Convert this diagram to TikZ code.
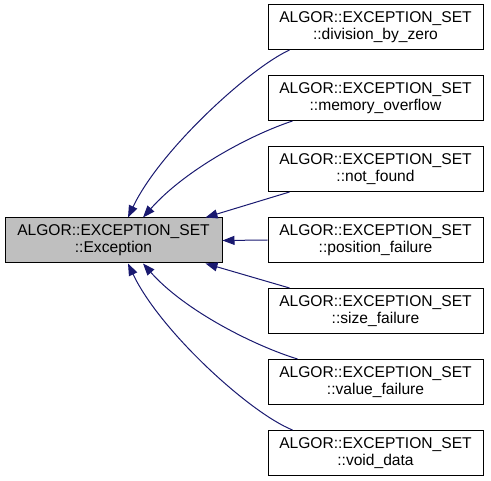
\documentclass[tikz,border=0pt]{standalone}
\usepackage{fontspec}
\setmainfont{Liberation Sans}
\usetikzlibrary{arrows.meta,calc}
\definecolor{edgeblue}{HTML}{191970}
\definecolor{maingray}{HTML}{BFBFBF}
\tikzset{
  cls/.style={draw=black, line width=1pt, fill=white, minimum width=215pt, minimum height=45pt,
    inner sep=0pt, align=center, font=\fontsize{15.6}{17}\selectfont},
  mainbox/.style={cls, fill=maingray, minimum width=217pt},
  inh/.style={draw=edgeblue, line width=1pt, -{Triangle[length=12pt,width=9pt]}},
}
\begin{document}
\begin{tikzpicture}[x=1pt,y=-1pt]
\useasboundingbox (0,0) rectangle (491,481);
\node[mainbox] (main) at (113.5,240.5) {ALGOR::EXCEPTION\_SET\\::Exception};
\node[cls] (b1) at (375.5,27) {ALGOR::EXCEPTION\_SET\\::division\_by\_zero};
\node[cls] (b2) at (375.5,98) {ALGOR::EXCEPTION\_SET\\::memory\_overflow};
\node[cls] (b3) at (375.5,169) {ALGOR::EXCEPTION\_SET\\::not\_found};
\node[cls] (b4) at (375.5,240) {ALGOR::EXCEPTION\_SET\\::position\_failure};
\node[cls] (b5) at (375.5,311) {ALGOR::EXCEPTION\_SET\\::size\_failure};
\node[cls] (b6) at (375.5,382) {ALGOR::EXCEPTION\_SET\\::value\_failure};
\node[cls] (b7) at (375.5,453) {ALGOR::EXCEPTION\_SET\\::void\_data};
\draw[inh] ($(b1.south west)+(22,0)$) .. controls (250,68) and (160,150) .. ($(main.north)+(14.5,0)$);
\draw[inh] ($(b2.south west)+(25,0)$) .. controls (250,135) and (185,170) .. ($(main.north)+(29.5,0)$);
\draw[inh] ($(b3.south west)+(22,0)$) -- ($(main.north east)+(-17,0)$);
\draw[inh] (b4.west) -- (main.east);
\draw[inh] ($(b5.north west)+(22,0)$) -- ($(main.south east)+(-17,0)$);
\draw[inh] ($(b6.north west)+(30,0)$) .. controls (255,346) and (185,311) .. ($(main.south)+(29.5,0)$);
\draw[inh] ($(b7.north west)+(25,0)$) .. controls (250,413) and (160,331) .. ($(main.south)+(14.5,0)$);
\end{tikzpicture}
\end{document}
